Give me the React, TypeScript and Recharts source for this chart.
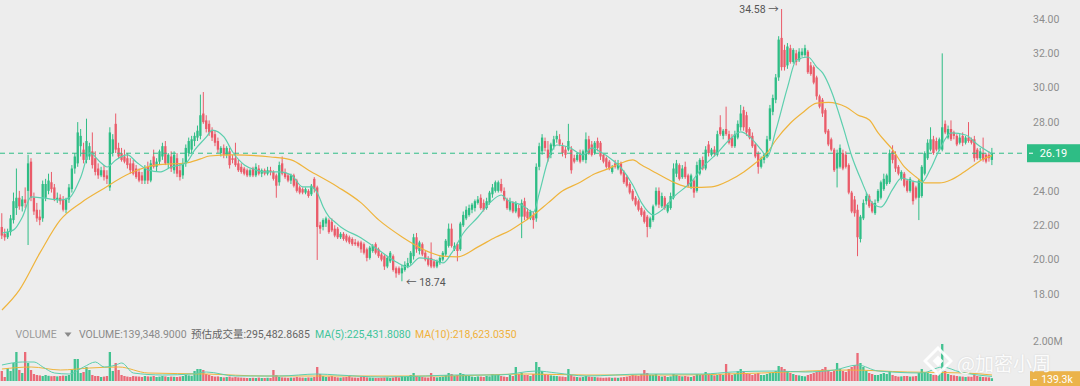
import React from 'react';
import { ComposedChart, Bar, Line, XAxis, YAxis, ReferenceLine, ReferenceDot } from 'recharts';

const GREEN = '#2ebd85';
const RED = '#ea5b69';
const MA_FAST = '#5ccfae';
const MA_SLOW = '#efb43c';
const AXIS_TEXT = '#8d8d8d';
const BG = '#ededed';
const FONT = 'Roboto, "Noto Sans CJK SC", sans-serif';

// [open, high, low, close]
const ohlc: [number, number, number, number][] = [
  [21.9,22.7,21.2,21.4],[21.5,21.8,21.1,21.3],[21.3,21.8,21.2,21.6],[21.6,22.6,21.4,22.4],[22.3,23.9,22.1,23.4],[23.0,25.3,22.6,23.6],[23.6,24.0,22.9,23.1],[23.1,23.7,22.8,23.5],[23.5,24.2,23.0,23.3],[24.0,26.1,20.85,25.6],
  [25.7,25.9,23.4,23.6],[23.6,23.9,22.6,22.8],[22.9,23.3,22.2,22.4],[22.5,22.9,22.0,22.3],[22.4,24.6,22.2,24.4],[23.6,24.7,23.4,24.4],[24.0,25.0,23.8,24.6],[24.5,25.1,23.9,24.1],[24.2,24.4,23.4,23.5],[23.5,23.9,23.3,23.6],
  [23.6,23.8,23.2,23.4],[23.5,23.7,22.8,22.9],[22.9,23.6,22.7,23.5],[23.5,24.4,23.3,24.2],[24.1,25.5,23.9,25.3],[25.3,26.2,25.0,26.0],[25.6,28.0,25.4,27.4],[26.6,27.6,26.0,27.2],[26.4,26.8,25.6,25.8],[25.8,28.2,25.6,26.9],
  [26.0,26.8,25.8,26.6],[26.3,27.4,25.3,25.5],[25.9,26.3,24.9,25.1],[25.3,25.6,24.7,24.9],[24.9,25.4,24.8,25.2],[25.2,25.5,24.6,24.8],[24.9,25.2,24.4,24.7],[24.2,27.7,24.0,27.4],[26.2,27.3,26.0,27.0],[27.9,28.5,26.2,26.4],
  [26.5,26.8,25.9,26.0],[26.2,26.5,25.7,25.8],[26.0,26.4,25.6,25.7],[25.9,26.2,25.3,25.5],[25.6,25.9,25.0,25.2],[25.6,25.8,24.9,25.0],[25.3,25.5,24.7,24.8],[25.1,25.3,24.5,24.6],[24.9,25.1,24.4,24.6],[24.6,25.5,24.4,25.3],
  [25.4,25.7,24.4,24.6],[24.6,25.8,24.5,25.6],[26.0,26.4,25.3,25.4],[25.4,25.9,25.1,25.7],[25.7,26.4,25.5,26.3],[26.0,26.8,25.8,26.6],[26.6,26.9,25.5,25.6],[25.6,26.2,25.3,26.1],[26.0,26.3,25.1,25.3],[25.2,26.3,25.0,26.1],
  [25.9,26.2,24.8,25.0],[25.2,25.6,24.6,24.8],[24.9,25.9,24.7,25.6],[25.6,26.7,25.4,26.5],[26.2,27.1,26.0,26.9],[26.4,27.2,26.2,27.0],[26.9,27.4,26.6,27.2],[27.1,27.8,26.9,27.5],[27.2,29.6,27.0,28.4],[28.5,29.75,27.9,28.0],
  [28.1,28.4,27.4,27.6],[27.9,28.1,27.2,27.4],[27.5,27.7,26.9,27.1],[27.3,27.5,26.6,26.8],[26.9,27.1,26.2,26.4],[26.2,26.6,26.0,26.5],[26.5,26.7,25.9,26.1],[26.1,26.6,25.9,26.5],[26.3,26.5,25.3,25.5],[25.9,26.1,25.6,25.8],
  [25.9,26.8,25.4,25.5],[25.6,25.8,25.1,25.2],[25.4,25.6,25.0,25.1],[25.3,25.4,24.9,25.0],[25.2,25.3,24.8,24.9],[24.9,25.3,24.8,25.2],[25.3,25.4,24.8,24.9],[24.9,25.6,24.8,25.4],[25.3,25.5,24.9,25.0],[25.0,25.3,24.8,25.2],
  [25.2,25.3,24.9,25.0],[25.0,25.4,24.9,25.2],[25.2,25.4,24.9,25.1],[25.1,25.2,24.6,24.7],[24.9,25.0,23.6,24.3],[24.5,25.7,24.3,25.5],[25.6,26.0,24.9,25.0],[25.1,25.3,24.7,24.8],[24.9,25.0,24.5,24.6],[24.6,25.0,24.4,24.9],
  [24.9,25.0,24.2,24.3],[24.6,24.7,23.9,24.0],[24.2,24.3,23.8,23.9],[24.1,24.2,23.8,23.9],[23.9,24.2,23.8,24.1],[24.0,24.1,23.6,23.7],[23.8,24.4,23.7,24.3],[24.7,24.8,23.9,24.1],[24.2,24.3,19.98,21.9],[22.0,22.2,21.5,21.8],
  [21.9,22.4,21.7,22.3],[22.1,22.5,21.9,22.4],[22.3,22.4,21.5,21.6],[22.2,22.4,21.6,21.7],[21.8,22.0,21.3,21.4],[21.8,21.9,21.2,21.3],[21.3,21.6,21.2,21.5],[21.5,21.6,21.1,21.2],[21.4,21.5,21.0,21.1],[21.3,21.4,20.9,21.0],
  [21.2,21.3,20.8,20.9],[21.0,21.2,20.8,20.9],[21.0,21.1,20.7,20.8],[21.0,21.1,20.4,20.6],[20.9,21.0,20.3,20.4],[20.6,20.7,19.9,20.1],[20.1,20.8,20.0,20.7],[20.5,20.9,20.4,20.8],[20.9,21.0,20.3,20.4],[20.6,20.7,20.1,20.2],
  [20.3,20.4,19.9,20.0],[20.2,20.3,19.4,19.6],[19.6,20.2,19.5,20.1],[19.9,20.5,19.8,20.4],[20.2,20.3,19.3,19.4],[19.5,19.6,18.95,19.2],[19.5,19.6,19.1,19.2],[19.2,19.7,18.74,19.5],[19.4,19.9,19.3,19.7],[19.6,20.1,19.5,19.8],
  [19.8,20.5,19.7,20.4],[20.2,21.5,20.0,21.3],[21.3,21.55,20.4,20.6],[20.5,21.1,20.3,21.0],[20.9,21.0,20.2,20.3],[20.4,20.5,19.9,20.0],[20.1,20.2,19.6,19.7],[20.1,21.0,19.5,19.6],[19.9,20.0,19.5,19.6],[19.6,20.0,19.5,19.9],
  [19.8,20.2,19.7,20.1],[20.0,20.5,19.9,20.4],[20.3,21.2,20.2,21.1],[20.8,22.1,20.7,21.8],[21.8,22.1,20.7,20.8],[20.6,21.0,20.5,20.8],[20.9,21.0,19.9,20.5],[20.6,22.2,20.5,22.1],[22.0,22.8,21.9,22.6],[22.4,23.1,22.3,22.9],
  [22.6,23.2,22.5,23.0],[22.9,23.3,22.7,23.2],[23.0,23.5,22.8,23.4],[23.3,23.7,23.2,23.5],[23.6,23.8,22.9,23.0],[23.3,23.5,22.8,22.9],[23.0,23.6,22.9,23.4],[23.3,24.0,23.2,23.9],[23.8,24.4,23.6,24.2],[24.0,24.6,23.9,24.5],
  [24.0,24.6,23.9,24.5],[24.4,24.7,23.9,24.0],[24.0,24.2,23.4,23.5],[23.5,23.6,22.9,23.0],[22.9,23.6,22.8,23.4],[23.3,23.4,22.7,22.8],[22.8,23.4,22.7,23.3],[23.0,23.2,22.4,22.5],[22.5,23.5,21.25,23.3],[23.4,23.6,22.3,22.5],
  [22.8,23.0,22.3,22.4],[22.4,22.9,22.3,22.8],[22.6,22.8,21.8,22.3],[22.4,25.6,22.2,25.4],[25.4,26.8,25.2,26.6],[26.3,27.3,26.1,27.1],[26.9,27.1,26.3,26.5],[26.4,26.9,25.7,25.9],[26.1,26.8,25.9,26.7],[26.6,27.2,26.4,27.0],
  [27.0,27.5,26.8,27.2],[27.0,27.3,26.6,26.7],[26.6,26.8,26.0,26.2],[26.4,26.6,25.9,26.1],[26.4,27.9,26.3,26.9],[26.4,26.6,25.0,25.2],[25.9,26.1,25.6,25.7],[25.8,26.2,25.7,26.1],[26.2,26.4,25.6,25.7],[25.8,26.4,25.7,26.3],
  [25.8,27.4,25.6,27.0],[27.0,27.2,26.1,26.2],[26.7,26.9,26.0,26.1],[26.2,26.9,26.1,26.8],[26.9,27.1,26.3,26.5],[26.8,26.9,25.8,26.0],[26.1,26.2,25.6,25.7],[25.9,26.0,25.3,25.4],[25.7,25.8,25.2,25.3],[25.1,25.5,25.0,25.4],
  [25.6,25.8,25.3,25.4],[25.3,25.8,25.2,25.6],[25.6,25.7,24.9,25.0],[25.1,25.2,24.4,24.5],[24.8,24.9,24.2,24.3],[24.4,24.5,23.8,23.9],[24.0,24.1,23.4,23.5],[23.6,23.7,23.1,23.2],[23.4,23.5,22.8,22.9],[23.0,23.1,22.5,22.6],
  [22.8,22.9,22.1,22.2],[22.5,22.6,21.3,21.9],[21.9,22.5,21.8,22.4],[22.3,23.2,22.2,23.1],[23.2,24.2,23.1,24.0],[24.0,24.2,23.0,23.2],[23.1,23.9,23.0,23.7],[23.6,23.7,22.9,23.0],[22.8,23.3,22.7,23.2],[23.0,23.9,22.9,23.7],
  [23.6,25.6,23.5,25.3],[25.0,25.8,24.8,25.6],[25.5,25.6,24.6,24.7],[24.8,25.5,24.7,25.3],[25.4,25.7,24.7,24.8],[24.9,25.0,24.2,24.3],[24.2,25.0,24.1,24.9],[24.6,24.7,23.6,23.9],[24.0,25.7,23.9,25.5],[25.0,25.9,24.9,25.8],
  [25.8,26.0,25.2,25.3],[25.3,26.6,25.2,26.4],[26.7,26.9,26.0,26.2],[26.1,26.5,26.0,26.4],[26.4,26.6,26.0,26.2],[26.1,27.5,26.0,27.3],[27.7,28.4,27.2,27.3],[27.2,27.6,27.0,27.5],[27.6,28.9,27.2,27.3],[27.3,27.5,26.7,26.8],
  [27.1,27.3,26.5,26.6],[26.6,27.5,26.5,27.3],[27.1,28.1,27.0,27.9],[27.7,29.0,27.5,28.5],[28.7,28.9,27.5,27.7],[28.4,28.6,27.2,27.4],[27.6,27.7,27.0,27.1],[27.2,27.4,26.5,26.6],[26.7,26.8,25.9,26.0],[26.2,26.3,25.0,25.4],
  [25.4,26.0,25.3,25.9],[25.8,26.2,25.6,26.1],[26.0,27.2,25.9,27.0],[27.0,29.0,26.9,28.8],[28.6,29.6,28.4,29.4],[29.3,30.8,29.1,30.6],[30.6,33.0,30.4,32.8],[32.9,34.58,31.0,31.2],[32.2,32.5,31.0,31.2],[31.3,32.6,31.1,32.4],
  [32.3,32.5,31.4,31.5],[31.5,32.3,31.4,32.2],[32.0,32.2,31.3,31.5],[31.6,32.3,31.5,32.1],[31.9,32.3,31.8,32.1],[31.9,32.5,31.8,32.3],[32.1,32.2,30.8,30.9],[31.3,31.5,30.7,30.8],[31.2,31.3,30.2,30.3],[30.6,30.7,29.3,29.5],
  [29.5,29.6,28.8,28.9],[29.3,29.4,28.3,28.5],[28.7,28.8,27.3,27.4],[27.5,27.6,26.6,26.7],[27.0,27.1,26.3,26.4],[26.4,26.5,25.1,25.2],[25.3,26.4,24.2,26.2],[25.4,26.7,25.3,26.5],[26.2,26.4,25.2,25.3],[26.1,26.3,25.3,25.4],
  [25.5,25.6,23.8,23.9],[23.9,24.0,22.7,22.8],[23.5,23.7,22.5,22.7],[22.9,23.2,20.2,21.3],[21.2,22.6,21.0,22.5],[22.4,23.5,22.3,23.3],[23.4,23.9,23.2,23.7],[23.7,23.8,23.0,23.1],[23.3,23.4,22.7,22.8],[22.7,23.5,22.6,23.3],
  [23.4,24.1,23.3,24.0],[23.6,24.6,23.5,24.5],[24.1,25.0,24.0,24.7],[24.4,25.0,24.3,24.9],[24.5,26.4,24.4,26.2],[26.3,26.65,25.6,25.8],[26.1,26.3,25.1,25.3],[25.4,25.5,24.9,25.0],[24.7,25.2,24.6,25.1],[25.0,25.1,24.2,24.3],
  [24.6,24.7,23.9,24.0],[24.0,24.8,23.9,24.7],[24.5,24.6,23.2,23.4],[24.2,24.3,23.5,23.6],[23.6,24.7,22.3,24.6],[23.7,25.5,23.6,25.4],[25.0,26.3,24.9,26.2],[25.9,27.0,25.8,26.8],[26.4,27.7,26.3,27.0],[27.0,27.2,26.1,26.2],
  [26.9,27.1,26.3,26.4],[26.4,27.1,26.3,27.0],[26.4,32.0,26.3,27.7],[27.9,28.1,27.3,27.4],[27.1,27.8,27.0,27.6],[27.6,28.1,26.9,27.0],[27.4,27.5,27.0,27.2],[27.2,27.3,26.6,26.7],[26.8,27.3,26.7,27.1],[27.2,27.4,26.6,26.8],
  [26.8,27.2,26.7,27.1],[27.1,28.0,26.8,26.9],[27.0,27.1,26.7,26.8],[27.0,27.2,25.7,25.9],[26.4,26.5,25.8,25.9],[25.9,26.5,25.8,26.3],[26.2,27.1,25.7,25.8],[26.1,26.2,25.6,25.7],[26.1,26.3,25.7,25.9],[25.8,26.5,25.5,26.19],
];

// volume in thousands
const volume: number[] = [
  500,200,650,500,900,1450,550,400,1450,900,
  550,350,300,280,250,300,260,240,250,230,
  250,270,260,300,550,1100,1100,400,450,700,
  550,300,250,250,200,220,250,1450,500,900,
  550,300,250,220,200,250,230,220,200,250,
  230,220,250,200,220,250,230,200,220,210,
  200,220,250,300,280,260,500,600,600,550,
  350,300,250,220,230,200,180,200,220,180,
  200,180,170,160,150,150,160,150,170,150,
  150,160,150,550,300,200,180,170,160,170,
  170,200,180,170,160,180,170,200,700,350,
  250,200,220,250,200,180,170,190,200,250,
  180,170,160,200,250,180,170,160,150,150,
  160,170,180,150,170,200,180,250,220,200,
  300,400,250,220,200,180,170,400,200,180,
  200,220,300,400,350,250,300,400,350,300,
  250,220,200,230,220,200,250,230,350,300,
  300,250,220,200,300,250,700,350,400,300,
  300,250,350,950,700,500,350,300,280,260,
  250,230,220,200,600,300,220,200,180,200,
  250,220,200,200,180,170,160,170,180,160,
  170,160,180,200,220,250,300,280,250,350,
  550,400,300,300,350,250,220,250,200,230,
  350,300,250,230,250,220,200,250,350,300,
  300,450,350,300,280,300,350,300,850,400,
  300,350,500,600,500,400,350,300,350,400,
  300,300,350,400,450,500,750,700,600,500,
  400,350,300,280,250,230,300,350,400,450,
  500,600,700,500,450,500,900,600,500,450,
  600,700,800,1400,900,700,500,400,350,300,
  300,350,400,350,500,300,250,220,230,250,
  250,220,230,250,400,600,450,400,350,300,
  300,400,1850,500,350,300,280,250,230,220,
  200,220,210,300,250,220,200,190,180,139.3,
];

// moving-average curves: [candle index, value]
const maFastKnots: [number, number][] = [
  [0,21.55],[4,21.73],[7,22.48],[10,23.65],[14,23.59],[20,23.47],[23,23.59],[27,24.81],[30,26.21],[34,25.62],[36,25.39],[39,25.8],[43,26.09],[46,25.68],[50,25.22],[54,25.1],[58,25.39],[63,25.62],[66,26.38],[70,27.14],[72,27.54],[76,27.14],[79,26.26],[83,25.51],[87,25.22],[90,25.1],[95,25.1],[99,24.93],[103,24.23],[106,24.23],[108,23.88],[110,23.06],[112,22.48],[114,22.19],[116,21.9],[123,21.26],[129,20.56],[135,19.86],[139,19.57],[143,20.1],[148,19.98],[151,19.81],[154,20.39],[158,21.55],[163,22.48],[167,23.3],[171,23.76],[173,23.47],[178,23.18],[182,22.77],[184,23.88],[187,25.8],[190,26.67],[194,26.55],[199,26.09],[202,26.5],[205,26.26],[209,25.8],[212,25.33],[216,24.34],[219,23.3],[223,22.6],[226,22.89],[230,23.65],[236,24.52],[240,25.39],[245,26.21],[249,26.96],[253,27.43],[256,27.14],[260,26.38],[262,25.97],[265,27.54],[269,30.04],[272,31.61],[276,31.79],[279,31.2],[281,30.86],[284,29.8],[288,27.72],[291,26.0],[294,24.7],[298,23.3],[301,23.06],[305,24.1],[308,24.75],[312,24.55],[315,24.5],[318,25.3],[321,26.4],[325,27.37],[330,27.25],[334,26.7],[339,26.15],
];
const maSlowKnots: [number, number][] = [
  [0,17.07],[6,18.24],[13,20.39],[20,22.31],[27,23.3],[34,24.05],[44,25.04],[53,25.51],[63,25.62],[68,25.86],[71,26.03],[79,26.09],[92,25.97],[99,25.8],[105,25.2],[115,24.23],[123,23.3],[129,22.31],[137,21.32],[141,20.9],[147,20.39],[151,20.2],[156,20.16],[163,20.74],[169,21.3],[174,21.7],[178,22.13],[182,22.6],[187,23.3],[192,24.0],[198,24.5],[203,25.0],[207,25.25],[212,25.62],[216,25.8],[219,25.5],[224,25.04],[230,24.5],[236,24.2],[243,24.23],[249,24.6],[254,25.1],[258,25.62],[262,26.21],[265,26.96],[270,27.95],[274,28.53],[279,29.11],[283,29.15],[289,28.88],[293,28.42],[297,28.12],[300,27.37],[305,26.38],[309,25.39],[313,24.81],[316,24.46],[321,24.46],[325,24.65],[329,25.05],[332,25.4],[336,25.85],[339,26.05],
];
const volMa5Knots: [number, number][] = [
  [0,800],[7,950],[11,950],[14,700],[18,400],[23,350],[28,700],[32,950],[35,700],[39,800],[41,900],[45,400],[55,300],[65,350],[70,450],[80,250],[95,250],[108,350],[115,300],[130,200],[145,250],[155,300],[170,300],[183,500],[190,400],[200,250],[220,350],[240,350],[250,450],[265,500],[275,450],[285,550],[293,800],[300,500],[315,400],[322,700],[328,450],[339,230],
];
const volMa10Knots: [number, number][] = [
  [0,600],[10,700],[20,550],[30,650],[40,700],[50,400],[70,350],[90,250],[120,250],[150,250],[180,350],[200,300],[230,300],[260,400],[290,550],[310,450],[330,400],[339,300],
];

// 26.00 is covered by the last-price tag in the reference, so it is not listed
const priceTicks = [18, 20, 22, 24, 28, 30, 32, 34];
const priceDomain: [number, number] = [16.487, 35.105];
const volumeTicks = [2000];
const volumeDomain: [number, number] = [0, 2000];
const lastPrice = 26.19;
const lastVolume = 139.3;
const highMark = { idx: 267, value: 34.58 };
const lowMark = { idx: 137, value: 18.74 };
const legendTitle = 'VOLUME';
const legendVolume = 'VOLUME:139,348.9000';
const legendEstimate = '预估成交量:295,482.8685';
const legendMa5 = 'MA(5):225,431.8080';
const legendMa10 = 'MA(10):218,623.0350';
const watermark = '@加密小周';

const fastMap = new Map(maFastKnots);
const slowMap = new Map(maSlowKnots);
const v5Map = new Map(volMa5Knots);
const v10Map = new Map(volMa10Knots);

const rows = ohlc.map(([o, h, l, c], i) => ({
  idx: i,
  o, h, l, c,
  range: [l, h],
  vol: volume[i],
  maFast: fastMap.has(i) ? fastMap.get(i) : null,
  maSlow: slowMap.has(i) ? slowMap.get(i) : null,
  volMa5: v5Map.has(i) ? v5Map.get(i) : null,
  volMa10: v10Map.has(i) ? v10Map.get(i) : null,
}));

const Candle = (props: any) => {
  const { x, y, width, height, payload } = props;
  if (x == null || y == null || !payload) return null;
  const top = Math.min(y, y + height);
  const bottom = Math.max(y, y + height);
  const { o, h, l, c } = payload;
  const span = h - l;
  const toPx = (v: number) => (span === 0 ? top : top + ((h - v) / span) * (bottom - top));
  const cx = x + width / 2;
  const color = c >= o ? GREEN : RED;
  const bt = toPx(Math.max(o, c));
  const bb = toPx(Math.min(o, c));
  return (
    <g>
      <line x1={cx} x2={cx} y1={top} y2={bottom} stroke={color} strokeWidth={1} />
      <rect x={cx - 1.15} y={bt} width={2.3} height={Math.max(bb - bt, 0.8)} fill={color} />
    </g>
  );
};

const VolBar = (props: any) => {
  const { x, y, width, height, payload } = props;
  if (x == null || y == null || !payload) return null;
  const top = Math.min(y, y + height);
  const hgt = Math.abs(height);
  const color = payload.c >= payload.o ? GREEN : RED;
  return <rect x={x + width / 2 - 1.15} y={top} width={2.3} height={Math.max(hgt, 0.5)} fill={color} fillOpacity={0.9} />;
};

const PriceLine = (p: any) => {
  const { x1, x2, y1 } = p;
  if (x1 == null) return null;
  const right = Math.max(x1, x2);
  const left = Math.min(x1, x2);
  return (
    <g>
      <line x1={left} x2={right} y1={y1} y2={y1} stroke={GREEN} strokeWidth={1} strokeDasharray="5 4" />
      <rect x={right + 2} y={y1 - 9} width={53} height={18} fill={GREEN} />
      <line x1={right + 4} x2={right + 8} y1={y1} y2={y1} stroke="#ffffff" strokeWidth={1} />
      <text x={right + 28.5} y={y1} dy="0.36em" textAnchor="middle" fill="#ffffff" fontSize={11} fontFamily={FONT}>
        {lastPrice.toFixed(2)}
      </text>
    </g>
  );
};

const VolTag = (p: any) => {
  const { x1, x2, y1 } = p;
  if (x1 == null) return null;
  const right = Math.max(x1, x2);
  return (
    <g>
      <rect x={right + 5} y={y1 - 7} width={50} height={18} fill="#ebb34a" />
      <line x1={right + 8} x2={right + 12} y1={y1 + 1.5} y2={y1 + 1.5} stroke="#ffffff" strokeWidth={1} />
      <text x={right + 32} y={y1 + 1.5} dy="0.36em" textAnchor="middle" fill="#ffffff" fontSize={10.5} fontFamily={FONT}>
        {lastVolume.toFixed(1)}k
      </text>
    </g>
  );
};

const HighTag = (p: any) => {
  const { cx, cy } = p;
  if (cx == null) return null;
  return (
    <text x={cx - 3} y={cy} dy="0.36em" textAnchor="end" fill="#555555" fontSize={10.5} fontFamily={FONT}>
      {highMark.value.toFixed(2)} →
    </text>
  );
};

const LowTag = (p: any) => {
  const { cx, cy } = p;
  if (cx == null) return null;
  return (
    <text x={cx + 4} y={cy + 1} dy="0.36em" textAnchor="start" fill="#555555" fontSize={10.5} fontFamily={FONT}>
      ← {lowMark.value.toFixed(2)}
    </text>
  );
};

const tickStyle = { fill: AXIS_TEXT, fontSize: 10.5, fontFamily: FONT };
const xPadding = { left: 0.5, right: 31.5 };

export default function App() {
  return (
    <div style={{ position: 'absolute', left: 0, top: 0, width: 1080, height: 386, background: BG, overflow: 'hidden', fontFamily: FONT }}>
      <div style={{ position: 'absolute', left: 0, top: 0 }}>
        <ComposedChart width={1080} height={320} data={rows} margin={{ top: 0, right: 0, bottom: 0, left: 0 }}>
          <XAxis dataKey="idx" type="category" hide padding={xPadding} />
          <YAxis
            orientation="right"
            width={55}
            type="number"
            domain={priceDomain}
            allowDataOverflow
            ticks={priceTicks}
            tickFormatter={(v: number) => v.toFixed(2)}
            axisLine={false}
            tickLine={false}
            tick={tickStyle}
          />
          <ReferenceLine y={lastPrice} shape={PriceLine} />
          <Bar dataKey="range" shape={Candle} isAnimationActive={false} />
          <Line dataKey="maSlow" type="monotone" stroke={MA_SLOW} strokeWidth={1.2} dot={false} activeDot={false} connectNulls isAnimationActive={false} />
          <Line dataKey="maFast" type="monotone" stroke={MA_FAST} strokeWidth={1.2} dot={false} activeDot={false} connectNulls isAnimationActive={false} />
          <ReferenceDot x={highMark.idx} y={highMark.value} r={0} shape={HighTag} />
          <ReferenceDot x={lowMark.idx} y={lowMark.value} r={0} shape={LowTag} />
        </ComposedChart>
      </div>
      <div style={{ position: 'absolute', left: 0, top: 320 }}>
        <ComposedChart width={1080} height={66} data={rows} margin={{ top: 21, right: 0, bottom: 5, left: 0 }}>
          <XAxis dataKey="idx" type="category" hide padding={xPadding} />
          <YAxis
            orientation="right"
            width={55}
            type="number"
            domain={volumeDomain}
            allowDataOverflow
            ticks={volumeTicks}
            tickFormatter={(v: number) => (v / 1000).toFixed(2) + 'M'}
            axisLine={false}
            tickLine={false}
            tick={tickStyle}
          />
          <Bar dataKey="vol" shape={VolBar} isAnimationActive={false} />
          <Line dataKey="volMa10" type="monotone" stroke={MA_SLOW} strokeWidth={1} dot={false} activeDot={false} connectNulls isAnimationActive={false} />
          <Line dataKey="volMa5" type="monotone" stroke={MA_FAST} strokeWidth={1} dot={false} activeDot={false} connectNulls isAnimationActive={false} />
          <ReferenceLine y={lastVolume} shape={VolTag} />
        </ComposedChart>
      </div>
      <div style={{ position: 'absolute', top: 328, left: 0, height: 13, fontSize: 10.5, lineHeight: '13px', whiteSpace: 'nowrap' }}>
        <span style={{ position: 'absolute', left: 15.5, color: '#9a9a9a' }}>{legendTitle}</span>
        <svg style={{ position: 'absolute', left: 64, top: 4 }} width={8} height={6}>
          <path d="M0.5 0.5 L7.5 0.5 L4 5 Z" fill="#8a8a8a" />
        </svg>
        <span style={{ position: 'absolute', left: 79, color: '#8a8a8a' }}>{legendVolume}</span>
        <span style={{ position: 'absolute', left: 191, color: '#666666' }}>{legendEstimate}</span>
        <span style={{ position: 'absolute', left: 315, color: '#3fc49b' }}>{legendMa5}</span>
        <span style={{ position: 'absolute', left: 415, color: '#f0b13a' }}>{legendMa10}</span>
      </div>
      <svg style={{ position: 'absolute', left: 923, top: 346 }} width={30} height={30}>
        <path d="M15 2 L28 15 L15 28 L2 15 Z" fill="none" stroke="#ffffff" strokeWidth={3} strokeOpacity={0.9} />
        <path d="M15 9.5 L20.5 15 L15 20.5 L9.5 15 Z" fill="#ffffff" fillOpacity={0.9} />
      </svg>
      <div
        style={{
          position: 'absolute',
          left: 957,
          top: 353,
          fontSize: 19,
          lineHeight: '19px',
          color: 'rgba(255,255,255,0.92)',
          fontFamily: '"Noto Sans CJK SC", sans-serif',
          textShadow: '0 0 2px rgba(0,0,0,0.12)',
          whiteSpace: 'nowrap',
        }}
      >
        {watermark}
      </div>
    </div>
  );
}
